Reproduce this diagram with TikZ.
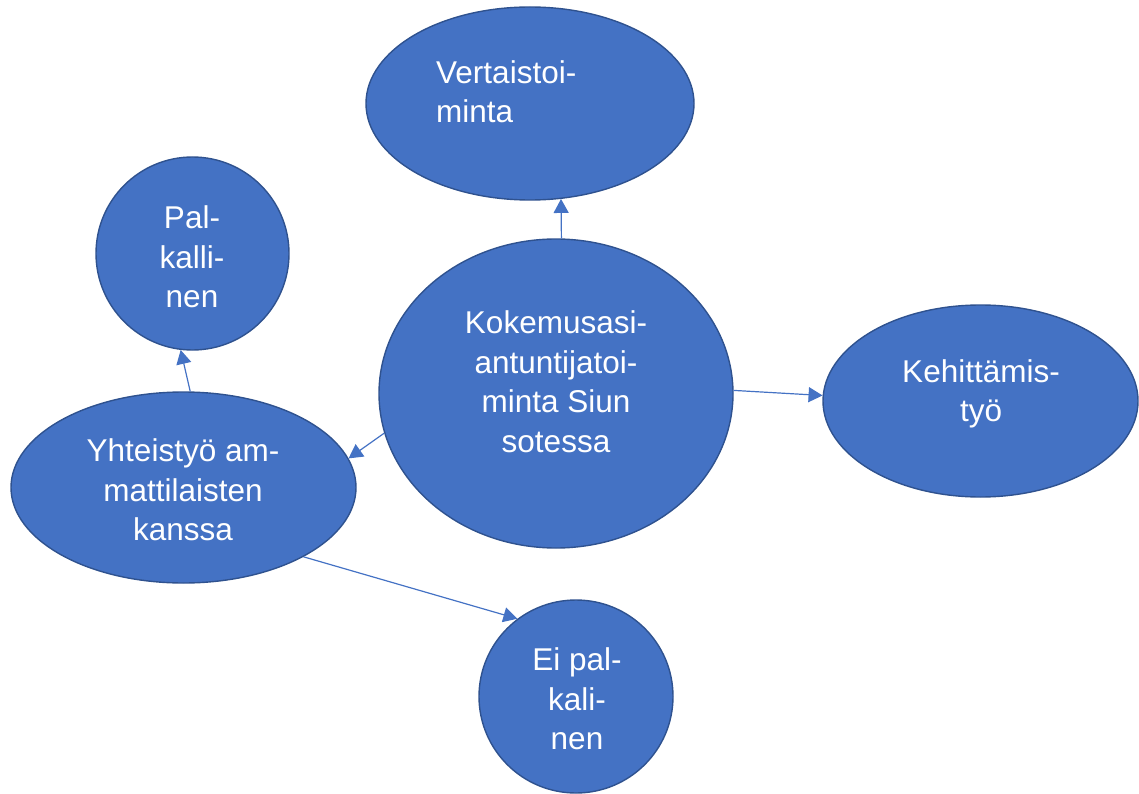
\documentclass[tikz,border=0pt]{standalone}
\usepackage{fontspec}
\setmainfont{Liberation Sans}
\usetikzlibrary{shapes.geometric,arrows.meta}
\definecolor{bubblefill}{HTML}{4472C4}
\definecolor{bubbleedge}{HTML}{2F528F}
\begin{document}
\begin{tikzpicture}[x=1pt,y=-1pt,
  bubble/.style={ellipse, draw=bubbleedge, fill=bubblefill, line width=1.4pt, inner sep=0pt},
  btext/.style={text=white, inner sep=0pt, font=\fontsize{31.5}{39.5}\selectfont},
  link/.style={draw=bubblefill, line width=1.2pt, -{Triangle[length=14pt,width=15pt]}}]
\useasboundingbox (0,0) rectangle (1139,794);
% ellipses
\node[bubble, minimum width=328pt, minimum height=193pt] (V) at (530,103.5) {};
\node[bubble, minimum width=193pt, minimum height=193pt] (P) at (192.5,253.5) {};
\node[bubble, minimum width=354pt, minimum height=309pt] (C) at (556,393.5) {};
\node[bubble, minimum width=315pt, minimum height=192pt] (K) at (980.5,401) {};
\node[bubble, minimum width=345pt, minimum height=191pt] (Y) at (183.5,487.5) {};
\node[bubble, minimum width=194pt, minimum height=193pt] (E) at (576,696.5) {};
% texts
\node[btext, align=left, anchor=west] (Vt) at (436,91.75) {Vertaistoi-\\minta};
\node[btext, align=center] (Pt) at (192,257) {Pal-\\kalli-\\nen};
\node[btext, align=center] (Ct) at (556,381.8) {Kokemusasi-\\antuntijatoi-\\minta Siun\\sotessa};
\node[btext, align=center] (Kt) at (981,394) {Kehittämis-\\työ};
\node[btext, align=center] (Yt) at (183,489.8) {Yhteistyö am-\\mattilaisten\\kanssa};
\node[btext, align=center] (Et) at (577,698.8) {Ei pal-\\kali-\\nen};
% connectors
\draw[link] (C.88.5) -- (V.-72.5);
\draw[link] (C.193) -- (Y.10.6);
\draw[link] (C.1.8) -- (K.178.2);
\draw[link] (Y.86) -- (P.263.7);
\draw[link] (Y.-30.4) -- (E.127.4);
\end{tikzpicture}
\end{document}
